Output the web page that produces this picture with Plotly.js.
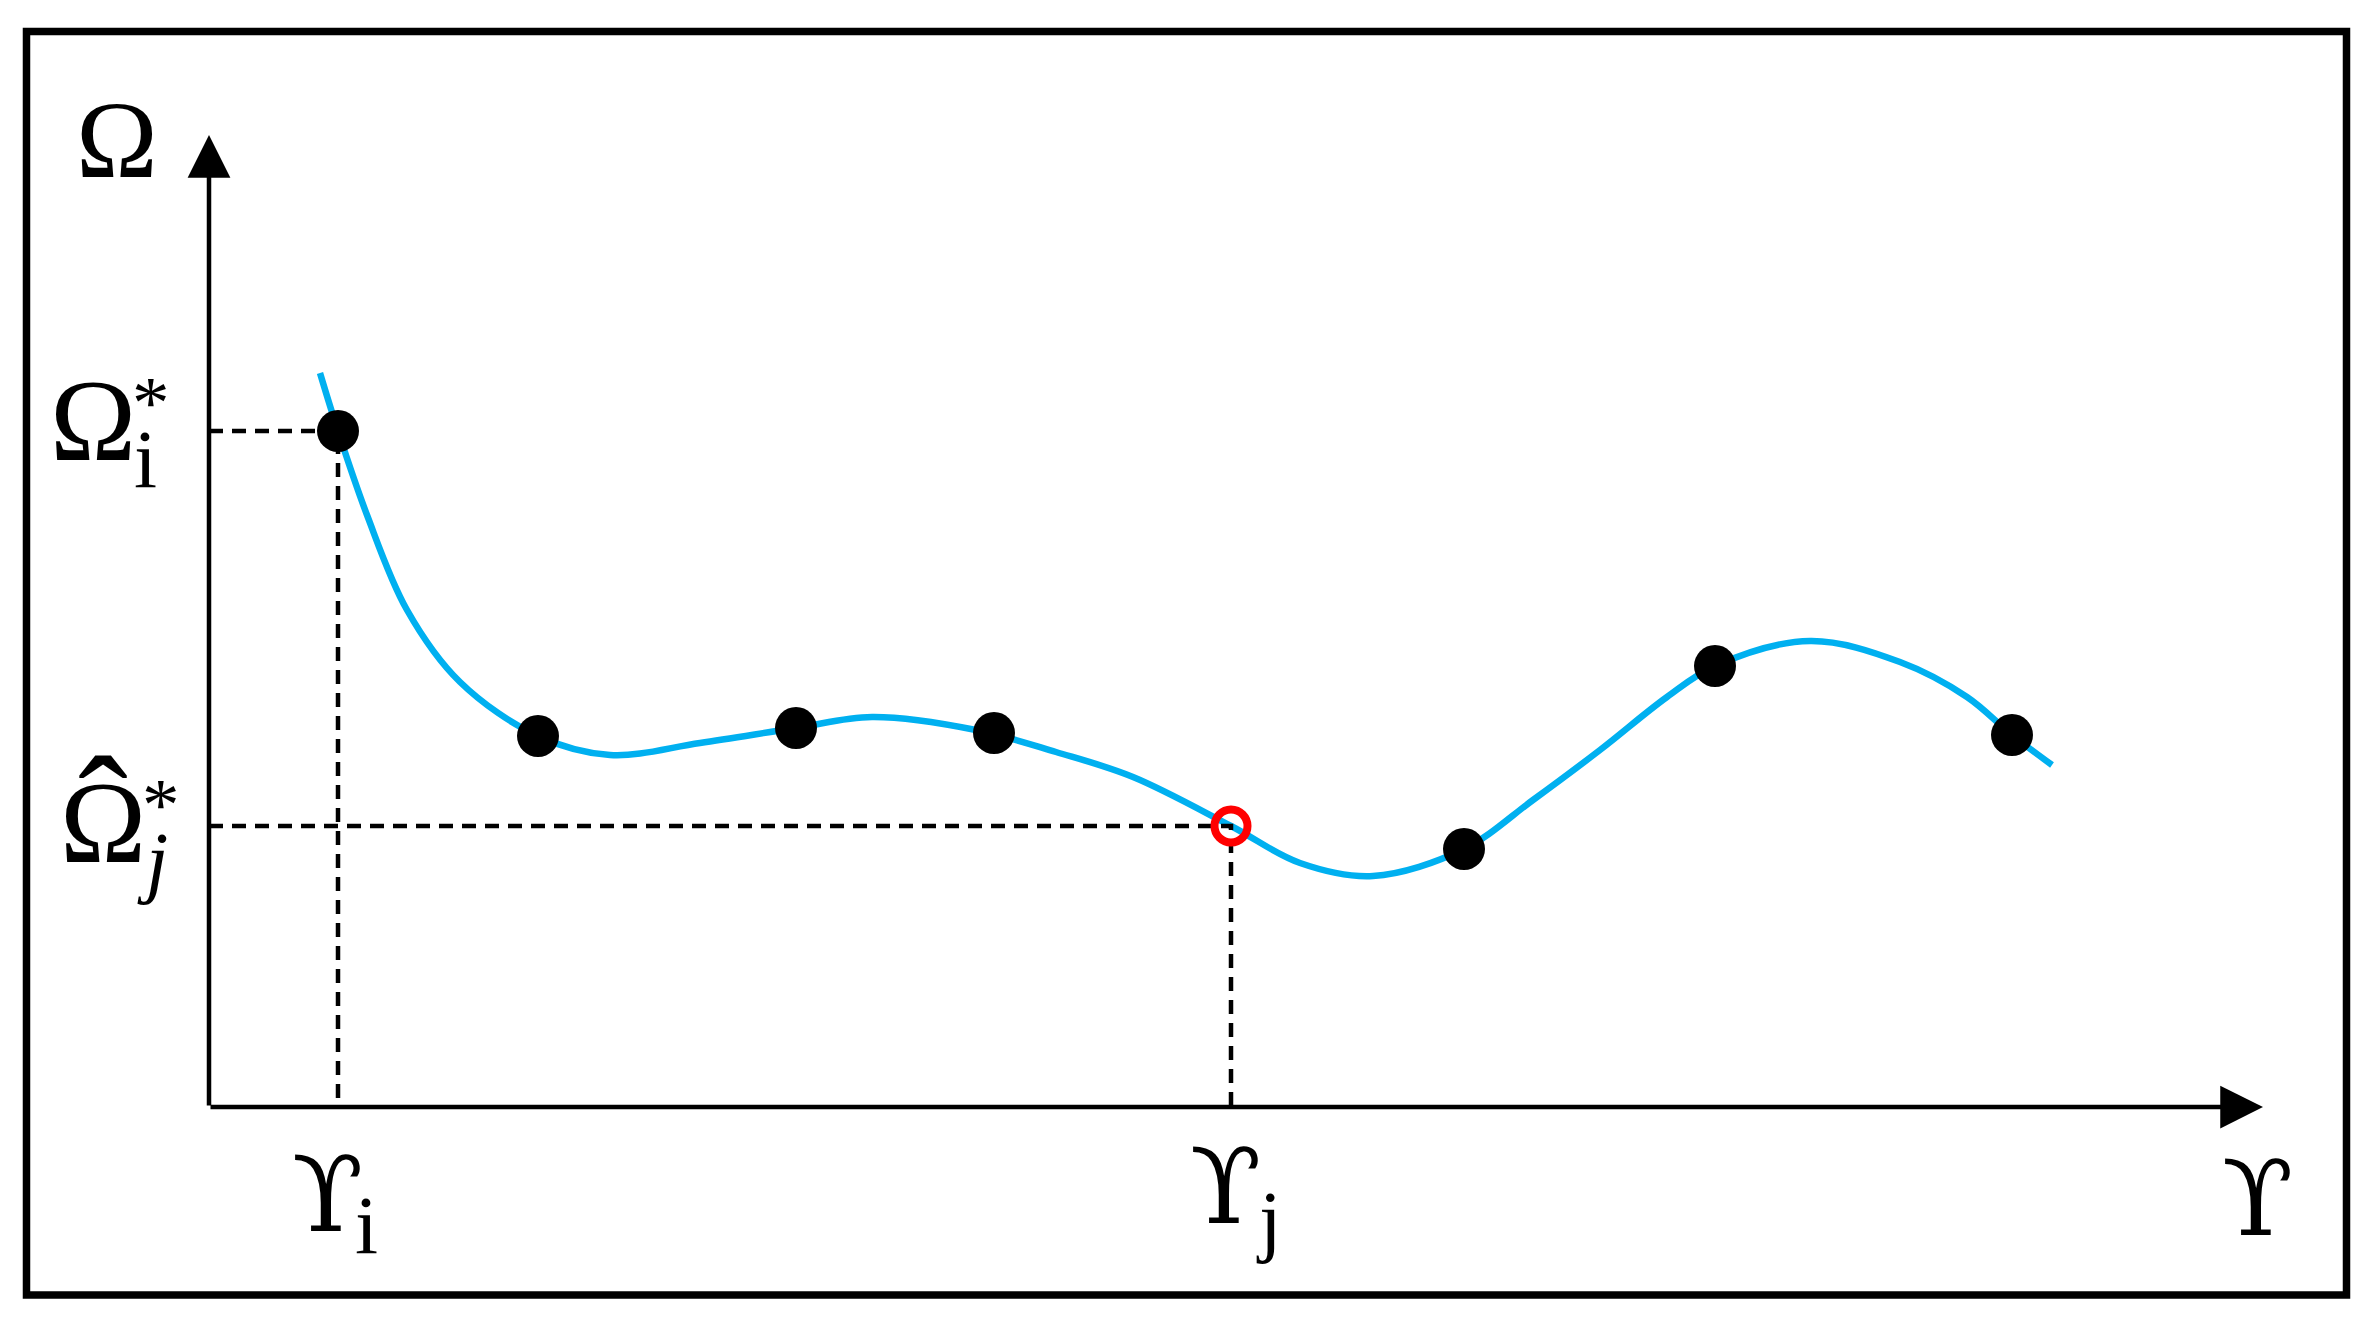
<!DOCTYPE html>
<html>
<head>
<meta charset="utf-8">
<script src="https://cdn.plot.ly/plotly-3.0.1.min.js"></script>
<style>
  html, body { margin: 0; padding: 0; background: #fff; }
  #plot { width: 2372px; height: 1317px; }
</style>
</head>
<body>
<div id="plot"></div>
<script>
// Data (arbitrary units, origin where the two axes meet) ------------------------
// smooth fitted curve
var curveX = [1.11, 1.29, 1.58, 1.98, 2.51, 3.29, 4.01, 4.91, 5.87, 6.63, 7.67, 8.47, 9.24, 10.22, 10.91, 11.64, 12.55, 13.24, 13.91, 14.58, 15.06, 16.01, 16.91, 17.58, 18.03, 18.43];
var curveY = [7.34, 6.76, 5.92, 4.97, 4.25, 3.71, 3.52, 3.64, 3.79, 3.90, 3.77, 3.55, 3.30, 2.81, 2.44, 2.31, 2.58, 3.07, 3.57, 4.10, 4.41, 4.66, 4.45, 4.10, 3.72, 3.42];
// observed samples (black dots)
var sampleX = [1.29, 3.29, 5.87, 7.85, 12.55, 15.06, 18.03];
var sampleY = [6.76, 3.71, 3.79, 3.74, 2.58, 4.41, 3.72];
// estimated point (red ring)
var estX = [10.22];
var estY = [2.81];
// axis extent
var axisEndX = 20.54;
var axisEndY = 9.72;

var serif = '"Liberation Serif", "Times New Roman", serif';
var upsFont = '"DejaVu Serif", serif';
var blue = '#00B0F0';

// dashed guide from the y axis to a point, then down to the x axis
function guide(px, py){
    return {
        x: [0, px, px],
        y: [py, py, 0],
        type: 'scatter',
        mode: 'lines',
        line: {color: '#000', width: 4.5, dash: '14px,9px'},
        hoverinfo: 'skip'
    };
}

var curve = {
    x: curveX, y: curveY,
    type: 'scatter', mode: 'lines',
    line: {color: blue, width: 6.5, shape: 'spline', smoothing: 1},
    hoverinfo: 'skip'
};
var samples = {
    x: sampleX, y: sampleY,
    type: 'scatter', mode: 'markers',
    marker: {color: '#000', size: 42, line: {width: 0}},
    hoverinfo: 'skip'
};
var estimate = {
    x: estX, y: estY,
    type: 'scatter', mode: 'markers',
    marker: {symbol: 'circle', color: 'rgba(0,0,0,0)', size: 33, line: {color: '#FF0000', width: 8}},
    hoverinfo: 'skip'
};

var data = [curve, guide(sampleX[0], sampleY[0]), guide(estX[0], estY[0]), samples, estimate];

// labels ------------------------------------------------------------------
function label(txt, x, y, size, italic, family){
    return {
        text: txt, x: x, y: y, xref: 'x', yref: 'y',
        showarrow: false, xanchor: 'center', yanchor: 'middle',
        font: {family: family || serif, size: size, color: '#000', style: italic ? 'italic' : 'normal'}
    };
}
function axisArrow(x, y){
    return {
        text: '', x: x, y: y, ax: 0, ay: 0, axref: 'x', ayref: 'y', xref: 'x', yref: 'y',
        showarrow: true, arrowhead: 2, arrowsize: 1.9, arrowwidth: 4.5, arrowcolor: '#000', standoff: 0
    };
}

var annotations = [
    axisArrow(axisEndX, 0),
    axisArrow(0, axisEndY),
    label('Ω', -0.92, 9.67, 110),
    label('Ω', -1.16, 6.86, 116),
    label('*', -0.58, 7.05, 75),
    label('i', -0.64, 6.48, 83),
    label('Ω', -1.06, 2.84, 116),
    label('ˆ', -1.06, 2.98, 150),
    label('*', -0.48, 3.03, 75),
    label('j', -0.57, 2.46, 80, true),
    label('ϒ', 1.18, -0.88, 104, false, upsFont),
    label('i', 1.57, -1.18, 83),
    label('ϒ', 10.16, -0.80, 104, false, upsFont),
    label('j', 10.60, -1.13, 81),
    label('ϒ', 20.48, -0.92, 104, false, upsFont)
];

var layout = {
    width: 2372, height: 1317, autosize: false,
    margin: {l: 0, r: 0, t: 0, b: 0, pad: 0},
    paper_bgcolor: '#fff', plot_bgcolor: '#fff',
    showlegend: false,
    xaxis: {range: [-2.09, 21.63], showgrid: false, zeroline: false, showline: false, showticklabels: false, ticks: '', fixedrange: true},
    yaxis: {range: [-2.10, 11.07], showgrid: false, zeroline: false, showline: false, showticklabels: false, ticks: '', fixedrange: true},
    shapes: [{
        type: 'rect', xref: 'paper', yref: 'paper',
        x0: 0.01117, x1: 0.98925, y0: 0.01670, y1: 0.97608,
        line: {color: '#000', width: 7.5}, fillcolor: 'rgba(0,0,0,0)'
    }],
    annotations: annotations
};

Plotly.newPlot('plot', data, layout, {staticPlot: true, displayModeBar: false});
</script>
</body>
</html>
